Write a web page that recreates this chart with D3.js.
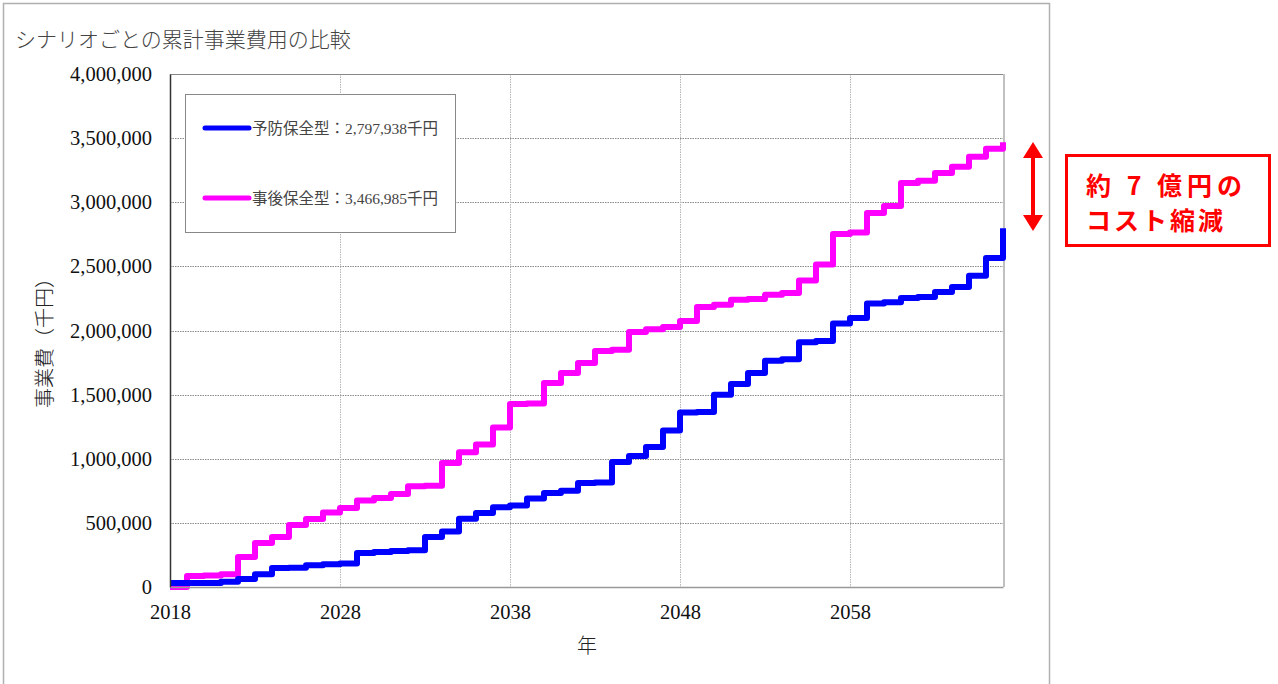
<!DOCTYPE html>
<html>
<head>
<meta charset="utf-8">
<script src="https://cdn.jsdelivr.net/npm/d3@7"></script>
<style>
    body { margin: 0; background: #fff; }
    svg { display: block; }
</style>
</head>
<body>
<div id="chart"></div>
<script>
// Years (x-axis)
const years = d3.range(2018, 2068);

// Cumulative cost (thousand yen), preventive maintenance
const preventive = [
    31000, 31000, 31000, 40000, 62000, 100000, 148000, 150000, 170000, 178000,
    184000, 265000, 272000, 280000, 287000, 390000, 432000, 532000, 577000, 622000,
    635000, 690000, 733000, 750000, 811000, 815000, 975000, 1022000, 1092000, 1220000,
    1360000, 1365000, 1500000, 1583000, 1668000, 1765000, 1775000, 1908000, 1918000, 2055000,
    2098000, 2210000, 2220000, 2254000, 2262000, 2301000, 2340000, 2426000, 2566000, 2797938
];

// Cumulative cost (thousand yen), corrective maintenance
const corrective = [
    0, 86000, 90000, 100000, 234000, 343000, 390000, 484000, 530000, 580000,
    616000, 675000, 694000, 725000, 785000, 790000, 967000, 1050000, 1112000, 1244000,
    1427000, 1430000, 1591000, 1669000, 1747000, 1841000, 1849000, 1989000, 2010000, 2028000,
    2075000, 2184000, 2200000, 2239000, 2245000, 2278000, 2293000, 2390000, 2515000, 2753000,
    2765000, 2917000, 2971000, 3151000, 3167000, 3229000, 3276000, 3354000, 3417000, 3466985
];

const xTicks = [2018, 2028, 2038, 2048, 2058];
const yTicks = [0, 500000, 1000000, 1500000, 2000000, 2500000, 3000000, 3500000, 4000000];

const seriesNames = ["予防保全型：2,797,938千円", "事後保全型：3,466,985千円"];
const seriesColors = ["#0000ff", "#ff00ff"];

const width = 1278;
const height = 684;
const margin = { left: 170, right: 275, top: 74, bottom: 97 };

const svg = d3.select("#chart")
    .append("svg")
    .attr("width", width)
    .attr("height", height);

// outer frame
svg.append("rect")
    .attr("x", 3.5)
    .attr("y", 3.5)
    .attr("width", 1046)
    .attr("height", 720)
    .attr("fill", "none")
    .attr("stroke", "#b0b0b0")
    .attr("stroke-width", 1.5);

// title
svg.append("text")
    .attr("x", 15)
    .attr("y", 47)
    .attr("font-family", "'Noto Sans CJK JP'")
    .attr("font-weight", 300)
    .attr("font-size", 21)
    .attr("fill", "#444")
    .text("シナリオごとの累計事業費用の比較");

const xScale = d3.scaleLinear()
    .domain([2018, 2067])
    .range([margin.left, width - margin.right]);

const yScale = d3.scaleLinear()
    .domain([0, 4000000])
    .range([height - margin.bottom, margin.top]);

const plot = svg.append("g");

// horizontal grid
plot.selectAll(".hgrid")
    .data(yTicks.slice(1, -1))
    .enter()
    .append("line")
    .attr("x1", xScale(2018))
    .attr("x2", xScale(2067))
    .attr("y1", (d) => Math.round(yScale(d)) + 0.5)
    .attr("y2", (d) => Math.round(yScale(d)) + 0.5)
    .attr("stroke", "#8a8a8a")
    .attr("stroke-dasharray", "1.5,1");

// vertical grid
plot.selectAll(".vgrid")
    .data(xTicks.slice(1))
    .enter()
    .append("line")
    .attr("x1", (d) => Math.round(xScale(d)) + 0.5)
    .attr("x2", (d) => Math.round(xScale(d)) + 0.5)
    .attr("y1", yScale(4000000))
    .attr("y2", yScale(0))
    .attr("stroke", "#b5b5b5")
    .attr("stroke-dasharray", "1.5,1");

// top and right frame of the plot
plot.append("line")
    .attr("x1", xScale(2018))
    .attr("x2", xScale(2067))
    .attr("y1", yScale(4000000) + 0.5)
    .attr("y2", yScale(4000000) + 0.5)
    .attr("stroke", "#888");
plot.append("line")
    .attr("x1", xScale(2067) + 1)
    .attr("x2", xScale(2067) + 1)
    .attr("y1", yScale(4000000))
    .attr("y2", yScale(0))
    .attr("stroke", "#c0c0c0")
    .attr("stroke-width", 2);

// axes
const yAxis = d3.axisLeft(yScale)
    .tickValues(yTicks)
    .tickSize(0)
    .tickPadding(18)
    .tickFormat(d3.format(","));
const gy = svg.append("g")
    .attr("transform", `translate(${margin.left}, 0)`)
    .call(yAxis);
gy.select(".domain").attr("stroke", "#333").attr("stroke-width", 1.5);

const xAxis = d3.axisBottom(xScale)
    .tickValues(xTicks)
    .tickSize(0)
    .tickPadding(17)
    .tickFormat(d3.format("d"));
const gx = svg.append("g")
    .attr("transform", `translate(0, ${height - margin.bottom})`)
    .call(xAxis);
gx.select(".domain").attr("stroke", "#999").attr("stroke-width", 1.5);

svg.selectAll(".tick text")
    .attr("font-family", "'Liberation Serif', serif")
    .attr("font-size", 20.5)
    .attr("fill", "#111");

// axis titles
svg.append("text")
    .attr("transform", `translate(52, 338) rotate(-90)`)
    .attr("text-anchor", "middle")
    .attr("font-family", "'Noto Sans CJK JP'")
    .attr("font-weight", 300)
    .attr("font-size", 20)
    .attr("fill", "#222")
    .text("事業費（千円）");

svg.append("text")
    .attr("x", 587)
    .attr("y", 653)
    .attr("text-anchor", "middle")
    .attr("font-family", "'Noto Sans CJK JP'")
    .attr("font-weight", 300)
    .attr("font-size", 20)
    .attr("fill", "#222")
    .text("年");

// step lines
const line = d3.line()
    .x((d) => xScale(d[0]))
    .y((d) => yScale(d[1]))
    .curve(d3.curveStepAfter);

const seriesData = [preventive, corrective].map((vals) => years.map((y, i) => [y, vals[i]]));

plot.selectAll(".series")
    .data([seriesData[1], seriesData[0]])
    .enter()
    .append("path")
    .attr("d", line)
    .attr("fill", "none")
    .attr("stroke", (d, i) => [seriesColors[1], seriesColors[0]][i])
    .attr("stroke-width", 6)
    .attr("stroke-linejoin", "round");

// legend
svg.append("rect")
    .attr("x", 185.5)
    .attr("y", 94.5)
    .attr("width", 270)
    .attr("height", 138)
    .attr("fill", "#fff")
    .attr("stroke", "#888");

const legend = svg.selectAll(".legend-item")
    .data(seriesNames)
    .enter()
    .append("g")
    .attr("transform", (d, i) => `translate(205, ${128 + i * 70})`);

legend.append("line")
    .attr("x1", 0)
    .attr("x2", 44)
    .attr("stroke", (d, i) => seriesColors[i])
    .attr("stroke-width", 5)
    .attr("stroke-linecap", "round");

legend.append("text")
    .attr("x", 47)
    .attr("y", 5.5)
    .attr("font-family", "'Liberation Serif', 'Noto Sans CJK JP'")
    .attr("font-size", 15.5)
    .attr("fill", "#444")
    .text((d) => d);

// annotation: double arrow + box
const ax = 1033;
svg.append("line")
    .attr("x1", ax)
    .attr("x2", ax)
    .attr("y1", 155)
    .attr("y2", 218)
    .attr("stroke", "#ff0000")
    .attr("stroke-width", 4);
svg.append("path")
    .attr("d", `M${ax},142 L${ax - 10},158 L${ax + 10},158 Z M${ax},231 L${ax - 10},215 L${ax + 10},215 Z`)
    .attr("fill", "#ff0000");

svg.append("rect")
    .attr("x", 1066.5)
    .attr("y", 155.5)
    .attr("width", 203)
    .attr("height", 90)
    .attr("fill", "#fff")
    .attr("stroke", "#ff0000")
    .attr("stroke-width", 3);

const noteLines = ["約 7 億円の", "コスト縮減"];
svg.selectAll(".note")
    .data(noteLines)
    .enter()
    .append("text")
    .attr("x", 1086)
    .attr("y", (d, i) => 195 + i * 35)
    .attr("font-family", "'Noto Sans CJK JP'")
    .attr("font-weight", 700)
    .attr("font-size", 25)
    .attr("letter-spacing", (d, i) => i === 0 ? 5 : 3)
    .attr("fill", "#ff0000")
    .text((d) => d);
</script>
</body>
</html>
